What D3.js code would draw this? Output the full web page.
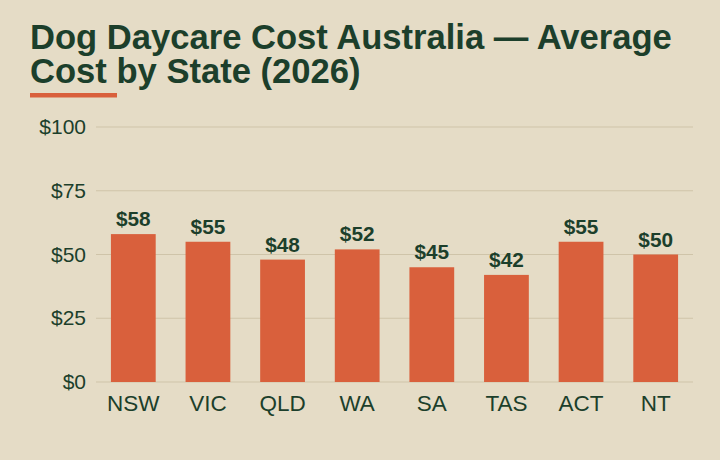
<!DOCTYPE html>
<html>
<head>
<meta charset="utf-8">
<script src="https://cdn.jsdelivr.net/npm/d3@7"></script>
<style>
  body { margin: 0; background: #e5dcc6; }
  svg { display: block; font-family: "Liberation Sans", Arial, sans-serif; }
</style>
</head>
<body>
<svg id="chart" width="720" height="460"></svg>
<script>
const states = ["NSW", "VIC", "QLD", "WA", "SA", "TAS", "ACT", "NT"];
const costs = [58, 55, 48, 52, 45, 42, 55, 50];
const yTicks = [0, 25, 50, 75, 100];
const titleLines = ["Dog Daycare Cost Australia \u2014 Average", "Cost by State (2026)"];

const config = {
    width: 720, height: 460,
    plot: { left: 96, right: 693, top: 127, bottom: 382 },
    colors: { bg: "#e5dcc6", ink: "#1c3f2b", bar: "#d9603c", grid: "#cfc4a9" }
};

const svg = d3.select("#chart");
svg.append("rect").attr("width", config.width).attr("height", config.height).attr("fill", config.colors.bg);

// title
svg.append("g").selectAll("text").data(titleLines).enter().append("text")
    .attr("x", 30).attr("y", (d, i) => 49 + i * 34)
    .attr("fill", config.colors.ink).style("font-size", "34.6px").style("font-weight", "bold")
    .text(d => d);
svg.append("rect").attr("x", 30).attr("y", 93).attr("width", 87).attr("height", 4.5).attr("fill", config.colors.bar);

const x = d3.scaleBand().domain(states).range([config.plot.left, config.plot.right]).paddingInner(0.4).paddingOuter(0.2);
const y = d3.scaleLinear().domain([0, 100]).range([config.plot.bottom, config.plot.top]);

// grid
svg.append("g").selectAll("line").data(yTicks).enter().append("line")
    .attr("x1", config.plot.left).attr("x2", config.plot.right)
    .attr("y1", d => y(d)).attr("y2", d => y(d))
    .attr("stroke", config.colors.grid).attr("stroke-width", 1);

svg.append("g").selectAll("text").data(yTicks).enter().append("text")
    .attr("x", 86).attr("y", d => y(d) + 7).attr("text-anchor", "end")
    .attr("fill", config.colors.ink).style("font-size", "21px")
    .text(d => "$" + d);

const data = states.map((s, i) => ({ state: s, cost: costs[i] }));

svg.append("g").selectAll("rect").data(data).enter().append("rect")
    .attr("x", d => x(d.state)).attr("y", d => y(d.cost))
    .attr("width", x.bandwidth()).attr("height", d => y(0) - y(d.cost))
    .attr("fill", config.colors.bar);

svg.append("g").selectAll("text").data(data).enter().append("text")
    .attr("x", d => x(d.state) + x.bandwidth() / 2).attr("y", d => y(d.cost) - 8)
    .attr("text-anchor", "middle").attr("fill", config.colors.ink)
    .style("font-size", "20.8px").style("font-weight", "bold")
    .text(d => "$" + d.cost);

svg.append("g").selectAll("text").data(states).enter().append("text")
    .attr("x", d => x(d) + x.bandwidth() / 2).attr("y", config.plot.bottom + 29)
    .attr("text-anchor", "middle").attr("fill", config.colors.ink)
    .style("font-size", "22.5px")
    .text(d => d);
</script>
</body>
</html>
